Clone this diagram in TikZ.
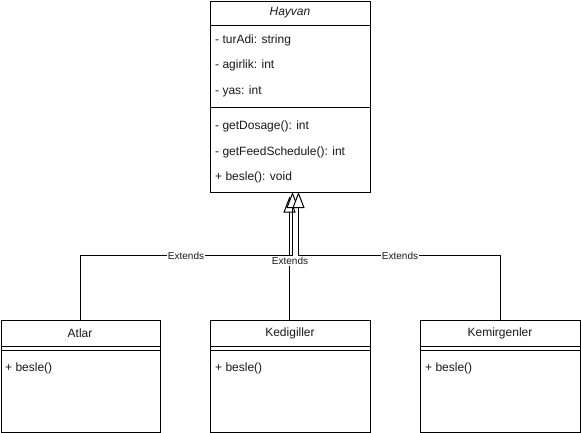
\documentclass[tikz,border=0pt]{standalone}
\usepackage{fontspec}
\setmainfont{Liberation Sans}
\usetikzlibrary{arrows.meta}
\begin{document}
\begin{tikzpicture}[x=1pt,y=-1pt,
  box/.style={draw=black,line width=1pt,anchor=north west,inner sep=0pt,fill=white},
  txt/.style={anchor=west,inner sep=0pt,font=\fontsize{12}{14}\selectfont,text=black!90},
  ttl/.style={inner sep=0pt,font=\fontsize{12}{14}\selectfont,text=black!90},
  lbl/.style={fill=white,inner sep=1pt,font=\fontsize{10}{12}\selectfont,text=black!90},
  sep/.style={line width=1pt},
  ext/.style={line width=1pt,-{Triangle[length=16pt,width=12pt,fill=white]}}]
\useasboundingbox (0,0) rectangle (581,433);
% Hayvan class
\node[box,minimum width=160pt,minimum height=191pt] (hayvan) at (210,1) {};
\draw[sep] (210,26) -- (370,26);
\draw[sep] (210,108) -- (370,108);
\node[ttl,font=\fontsize{12}{14}\selectfont\itshape] (ht) at (290,13) {Hayvan};
\node[txt] (a1) at (215,40) {- turAdi: string};
\node[txt] (a2) at (215,65) {- agirlik: int};
\node[txt] (a3) at (215,91) {- yas: int};
\node[txt] (m1) at (215,126) {- getDosage(): int};
\node[txt] (m2) at (215,152) {- getFeedSchedule(): int};
\node[txt] (m3) at (215,177) {+ besle(): void};
% child classes
\node[box,minimum width=159.5pt,minimum height=112pt] (atlar) at (0.5,320) {};
\node[box,minimum width=160pt,minimum height=112pt] (kedi) at (210,320) {};
\node[box,minimum width=160pt,minimum height=112pt] (kemir) at (420,320) {};
\foreach \xl/\xr in {0.5/160,210/370,420/580}{
  \draw[sep] (\xl,346.5) -- (\xr,346.5);
  \draw[sep] (\xl,350.5) -- (\xr,350.5);
}
\node[ttl] (atlt) at (80,333) {Atlar};
\node[ttl] (kedt) at (290,333) {Kedigiller};
\node[ttl] (kemt) at (500,333) {Kemirgenler};
\node[txt] (atlm) at (5,368) {+ besle()};
\node[txt] (kedm) at (215,368) {+ besle()};
\node[txt] (kemm) at (425,368) {+ besle()};
% connectors
\coordinate (tK) at (289.5,196.5);
\coordinate (tA) at (292.5,192);
\coordinate (jA) at (292.5,255.5);
\coordinate (tM) at (298.5,192);
\coordinate (jM) at (298.5,255.5);
\draw[ext] (kedi.north -| tK) -- (tK);
\draw[ext] (atlar.north) |- (jA) -- (tA);
\draw[ext] (kemir.north) |- (jM) -- (tM);
\node[lbl] (l1) at (186,255.5) {Extends};
\node[lbl] (l2) at (290,261) {Extends};
\node[lbl] (l3) at (400,255.5) {Extends};
\end{tikzpicture}
\end{document}
